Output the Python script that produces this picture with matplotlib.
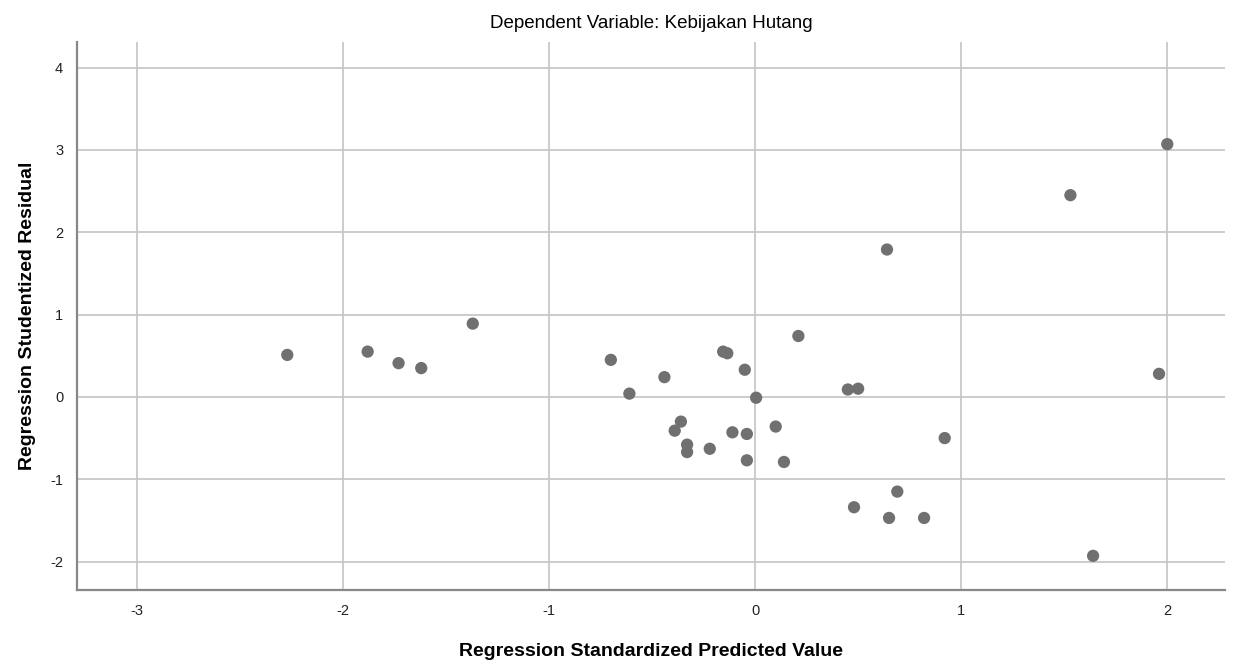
# Scatterplot: Dependent Variable Kebijakan Hutang
import matplotlib
matplotlib.use('Agg')
import matplotlib.pyplot as plt

plt.rcParams['font.family'] = ['Liberation Sans', 'DejaVu Sans']

# Regression Standardized Predicted Value
pred = [-2.27, -1.88, -1.73, -1.62, -1.37, -0.70, -0.61, -0.44, -0.36, -0.39,
        -0.33, -0.33, -0.22, -0.155, -0.135, -0.05, -0.11, -0.04, -0.04, 0.005,
        0.10, 0.14, 0.21, 0.45, 0.50, 0.48, 0.64, 0.65, 0.69, 0.82,
        0.92, 1.53, 1.64, 1.96, 2.00]
# Regression Studentized Residual
resid = [0.51, 0.55, 0.41, 0.35, 0.89, 0.45, 0.04, 0.24, -0.30, -0.41,
         -0.58, -0.67, -0.63, 0.55, 0.53, 0.33, -0.43, -0.45, -0.77, -0.01,
         -0.36, -0.79, 0.74, 0.09, 0.10, -1.34, 1.79, -1.47, -1.15, -1.47,
         -0.50, 2.45, -1.93, 0.28, 3.07]

x_ticks = [-3, -2, -1, 0, 1, 2]
y_ticks = [-2, -1, 0, 1, 2, 3, 4]

fig = plt.figure(figsize=(12.33, 6.65), dpi=100)
ax = fig.add_axes([0.0625, 0.1128, 0.931, 0.824])

ax.scatter(pred, resid, s=78, color='#707070', edgecolors='none', zorder=3)

ax.set_xlim(-3.29, 2.28)
ax.set_ylim(-2.345, 4.31)
ax.set_xticks(x_ticks)
ax.set_yticks(y_ticks)
ax.set_xticklabels([str(t) for t in x_ticks])
ax.set_yticklabels([str(t) for t in y_ticks])
ax.tick_params(length=0, labelsize=10.5, colors='#222222', pad=10)

ax.grid(True, color='#c8c8c8', linewidth=1.3)
ax.set_axisbelow(True)
for s in ['top', 'right']:
    ax.spines[s].set_visible(False)
for s in ['left', 'bottom']:
    ax.spines[s].set_color('#888888')
    ax.spines[s].set_linewidth(1.6)

ax.set_xlabel('Regression Standardized Predicted Value', fontsize=14,
              fontweight='bold', labelpad=18)
ax.set_ylabel('Regression Studentized Residual', fontsize=14,
              fontweight='bold', labelpad=10)
ax.set_title('Dependent Variable: Kebijakan Hutang', fontsize=13.5, pad=10)

fig.savefig('out.png', dpi=100)
